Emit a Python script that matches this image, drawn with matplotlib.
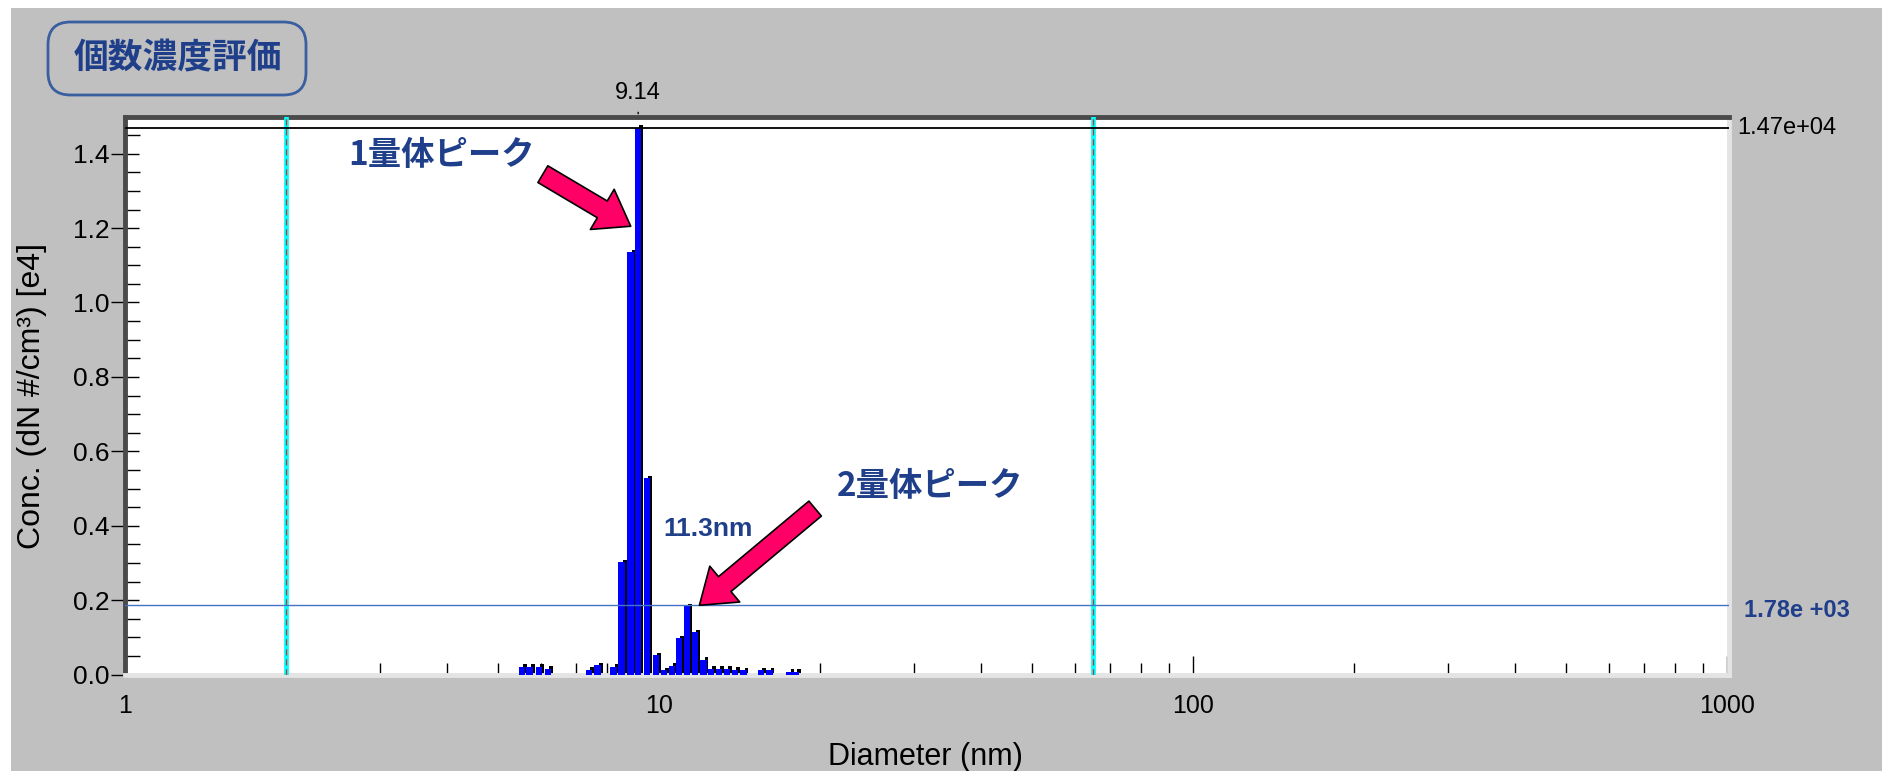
import matplotlib.pyplot as plt
from matplotlib.patches import FancyBboxPatch, Rectangle, FancyArrowPatch
from matplotlib.ticker import FixedLocator, MultipleLocator, NullFormatter

W, H = 1883, 771

# particle size bins (nm) and concentration (x1e4 #/cm3)
DIAMETER = [5.54, 5.73, 5.97, 6.20, 7.40, 7.68, 8.22, 8.52, 8.86, 9.14,
            9.50, 9.88, 10.22, 10.58, 10.92, 11.30, 11.70, 12.12, 12.52,
            12.95, 13.42, 13.90, 14.40, 15.55, 16.10, 17.55, 18.05]
CONC = [0.021, 0.021, 0.021, 0.016, 0.013, 0.025, 0.021, 0.302, 1.135, 1.470,
        0.528, 0.052, 0.011, 0.024, 0.098, 0.183, 0.113, 0.040, 0.016,
        0.016, 0.016, 0.013, 0.011, 0.011, 0.011, 0.008, 0.008]

PEAK_D = 9.14
PEAK_LINE = 1.47
DIMER_LINE = 0.188
CURSORS = [2.0, 65.0]
X_TICKS = [1, 10, 100, 1000]
X_TICK_LABELS = ["1", "10", "100", "1000"]

BG = "#C0C0C0"
NAVY = "#203F8A"
JP = ["Noto Sans CJK JP", "DejaVu Sans"]
plt.rcParams["font.family"] = ["Liberation Sans", "DejaVu Sans"]


def px(x, y):
    return x / W, 1 - y / H


def main():
    fig = plt.figure(figsize=(W / 100, H / 100), dpi=100, facecolor="white")
    fig.patches.append(Rectangle(px(11, H), (W - 11) / W, (H - 8) / H,
                                 transform=fig.transFigure, facecolor=BG,
                                 edgecolor="none", zorder=-10))

    ax = fig.add_axes([125 / W, 1 - 674.5 / H, (1729 - 125) / W, (674.5 - 116.5) / H])
    ax.set_facecolor("white")
    ax.set_xscale("log")
    ax.set_xlim(1, 1008)
    ax.set_ylim(0, 1.5)

    # bars with a dark drop shadow, widths in pixel units along a log axis
    dec = 534.0
    f = lambda p: 10 ** (p / dec)
    sh_left = [d * f(1) for d in DIAMETER]
    sh_w = [d * (f(4.8) - f(1)) for d in DIAMETER]
    ax.bar(sh_left, [c + 0.006 for c in CONC], width=sh_w, align="edge",
           color="black", edgecolor="none", zorder=2)
    bl_left = [d * f(-3.5) for d in DIAMETER]
    bl_w = [d * (f(3) - f(-3.5)) for d in DIAMETER]
    ax.bar(bl_left, CONC, width=bl_w, align="edge",
           color="#0000FF", edgecolor="none", zorder=3)

    # cursor lines
    for c in CURSORS:
        ax.axvline(c, color="#00FFFF", lw=3.4, zorder=4)
        ax.axvline(c, color="#CC3333", lw=0.9, dashes=(5, 3), zorder=5)

    ax.axhline(PEAK_LINE, color="black", lw=1.3, zorder=6)
    ax.axhline(DIMER_LINE, color="#4472C4", lw=1.0, zorder=6)

    # ticks
    ax.xaxis.set_major_locator(FixedLocator(X_TICKS))
    ax.set_xticklabels(X_TICK_LABELS)
    ax.xaxis.set_minor_locator(FixedLocator(
        [m * 10 ** e for e in range(3) for m in range(2, 10)]))
    ax.xaxis.set_minor_formatter(NullFormatter())
    ax.tick_params(axis="x", which="major", direction="in", length=14, width=1,
                   labelsize=18, pad=14, top=False)
    ax.tick_params(axis="x", which="minor", direction="in", length=9, width=1,
                   top=False)
    ax.yaxis.set_major_locator(MultipleLocator(0.2))
    ax.yaxis.set_minor_locator(MultipleLocator(0.05))
    ax.yaxis.set_major_formatter(lambda v, p: f"{v:.1f}")
    ax.tick_params(axis="y", which="major", direction="inout", length=20, width=1,
                   labelsize=19, pad=1, right=False)
    ax.tick_params(axis="y", which="minor", direction="in", length=11, width=1,
                   right=False)

    for s in ("left", "top"):
        ax.spines[s].set_color("#4A4A4A")
        ax.spines[s].set_linewidth(3.5)
    for s in ("right", "bottom"):
        ax.spines[s].set_color("#E4E4E4")
        ax.spines[s].set_linewidth(3.5)

    # labels
    fig.text(*px(32, 396), "Conc. (dN #/cm³) [e4]", rotation=90, ha="center",
             va="center", fontsize=23)
    fig.text(*px(925, 757), "Diameter (nm)", ha="center", va="center", fontsize=22)

    ax.annotate(f"{PEAK_D:.2f}", xy=(PEAK_D, 1), xycoords=("data", "axes fraction"),
                xytext=(0, 17), textcoords="offset points", ha="center", va="center",
                fontsize=17, annotation_clip=False)
    ax.annotate("", xy=(PEAK_D, 1), xycoords=("data", "axes fraction"),
                xytext=(0, 5), textcoords="offset points",
                arrowprops=dict(arrowstyle="-", color="black", lw=1))
    ax.annotate("1.47e+04", xy=(1, PEAK_LINE), xycoords=("axes fraction", "data"),
                xytext=(6, 0), textcoords="offset points", ha="left", va="center",
                fontsize=17, annotation_clip=False)
    ax.annotate("1.78e +03", xy=(1, DIMER_LINE), xycoords=("axes fraction", "data"),
                xytext=(11, -4), textcoords="offset points", ha="left", va="center",
                fontsize=17, fontweight="bold", color=NAVY, annotation_clip=False)

    # title box
    fig.patches.append(FancyBboxPatch(px(48, 95), (306 - 48) / W, (95 - 22) / H,
                                      boxstyle="round,pad=0,rounding_size=0.012",
                                      transform=fig.transFigure, facecolor=BG,
                                      edgecolor="#3A5FA0", lw=2, mutation_aspect=W / H))
    fig.text(*px(178, 58), "個数濃度評価", ha="center", va="center", fontsize=25,
             fontweight="bold", color=NAVY, family=JP)

    # peak annotations
    ax.text(5.85, 1.396, "1量体ピーク", ha="right", va="center", fontsize=24,
            fontweight="bold", color=NAVY, family=JP)
    ax.text(21.5, 0.505, "2量体ピーク", ha="left", va="center", fontsize=24,
            fontweight="bold", color=NAVY, family=JP)
    ax.text(10.2, 0.39, "11.3nm", ha="left", va="center", fontsize=19,
            fontweight="bold", color=NAVY)

    style = "simple,head_length=1.7,head_width=2.4,tail_width=1.0"
    for tail, tip in [((6.06, 1.345), (8.85, 1.205)), ((19.6, 0.446), (11.9, 0.186))]:
        ax.add_patch(FancyArrowPatch(tail, tip, arrowstyle=style, mutation_scale=14,
                                     facecolor="#FF0066", edgecolor="black", lw=1.2,
                                     zorder=8, shrinkA=0, shrinkB=0))

    fig.savefig("out.png", dpi=100, facecolor=fig.get_facecolor())


if __name__ == "__main__":
    main()
